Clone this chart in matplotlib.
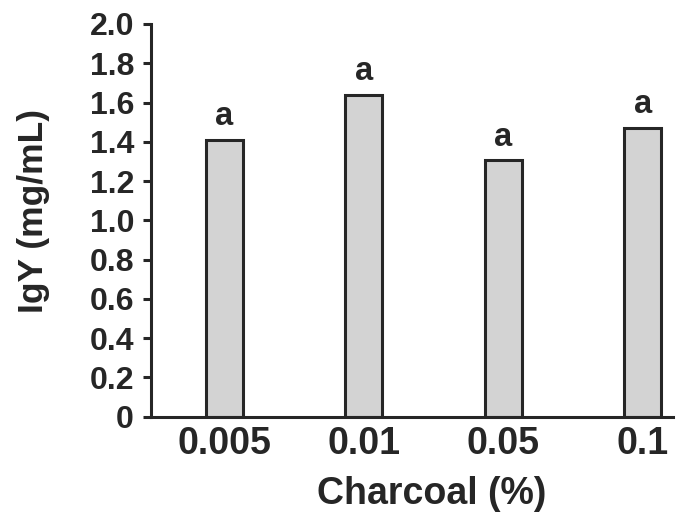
import matplotlib
matplotlib.use("Agg")
import matplotlib.pyplot as plt

plt.rcParams['font.family'] = ['Liberation Sans', 'DejaVu Sans']
plt.rcParams['font.weight'] = 'bold'

categories = ["0.005", "0.01", "0.05", "0.1"]
igy = [1.41, 1.64, 1.305, 1.47]
letters = ["a", "a", "a", "a"]
yticks = [0, 0.2, 0.4, 0.6, 0.8, 1.0, 1.2, 1.4, 1.6, 1.8, 2.0]
ytick_labels = ["0", "0.2", "0.4", "0.6", "0.8", "1.0", "1.2", "1.4", "1.6", "1.8", "2.0"]

dark = "#262626"

fig = plt.figure(figsize=(6.78, 5.16), dpi=100)
ax = fig.add_axes([0.2223, 0.1924, 0.7703, 0.7611])

x = range(len(categories))
ax.bar(x, igy, width=0.265, color="#d3d3d3", edgecolor=dark, linewidth=2.2)

for xi, v, t in zip(x, igy, letters):
    ax.text(xi, v + 0.075, t, ha="center", va="baseline", fontsize=23.5,
            fontweight="bold", color=dark)

ax.set_xlim(-0.525, 3.216)
ax.set_ylim(0, 2.0)
ax.set_yticks(yticks)
ax.set_yticklabels(ytick_labels)
ax.set_xticks(list(x))
ax.set_xticklabels(categories)

ax.spines['top'].set_visible(False)
ax.spines['right'].set_visible(False)
for s in ['left', 'bottom']:
    ax.spines[s].set_linewidth(2.2)
    ax.spines[s].set_color(dark)

ax.tick_params(axis='y', length=6, width=2.2, color=dark, labelsize=23,
               labelcolor=dark, pad=6)
ax.tick_params(axis='x', length=0, labelsize=27, labelcolor=dark, pad=7)

ax.set_xlabel("Charcoal (%)", fontsize=27, fontweight="bold", color=dark)
ax.xaxis.set_label_coords(0.5386, -0.152)
ax.set_ylabel("IgY (mg/mL)", fontsize=25.5, fontweight="bold", color=dark)
ax.yaxis.set_label_coords(-0.193, 0.525)

fig.savefig("out.png", dpi=100)
